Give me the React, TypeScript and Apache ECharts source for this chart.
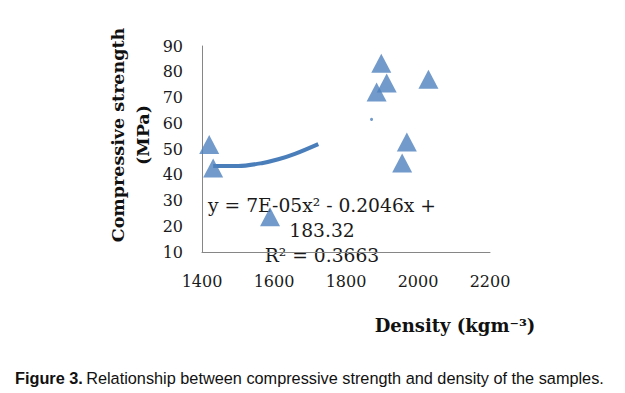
import React, { useEffect, useRef } from "react";
import * as echarts from "echarts";

// Axis ranges / ticks
const densityMin = 1400;
const densityMax = 2200;
const densityStep = 200;
const strengthMin = 10;
const strengthMax = 90;
const strengthStep = 10;

// Measured samples (density kg/m3, compressive strength MPa)
const densities = [1420, 1431, 1589, 1885, 1898, 1913, 1956, 1969, 2029];
const strengths = [51.7, 42.6, 23.7, 72.1, 83.3, 75.6, 44.6, 52.7, 77.1];

// Small stray point visible in the figure
const strayDensity = [1871];
const strayStrength = [61.5];

// Polynomial trendline as drawn in the figure
const trendDensity = [1431, 1445, 1501, 1566, 1612, 1658, 1723];
const trendStrength = [43.4, 43.4, 43.4, 44.5, 46.0, 48.1, 51.9];

const equationLines = ["y = 7E-05x² - 0.2046x +", "183.32", "R² = 0.3663"];
const yTitleLines = ["Compressive strength", "(MPa)"];
const xTitle = "Density (kgm⁻³)";
const captionBold = "Figure 3.";
const captionText = "Relationship between compressive strength and density of the samples.";

const SERIF = "'DejaVu Serif', 'Liberation Serif', serif";
const SANS = "'Liberation Sans', Arial, sans-serif";
const BLUE = "#4f81bd";

export default function App() {
  const ref = useRef<HTMLDivElement>(null);

  useEffect(() => {
    if (!ref.current) return;
    const chart = echarts.init(ref.current, undefined, { renderer: "svg" });
    const points = densities.map((d, i) => [d, strengths[i]]);
    const stray = strayDensity.map((d, i) => [d, strayStrength[i]]);
    const trend = trendDensity.map((d, i) => [d, trendStrength[i]]);

    chart.setOption({
      animation: false,
      backgroundColor: "#ffffff",
      grid: { left: 202, right: 135, top: 46, bottom: 141, containLabel: false },
      xAxis: {
        type: "value",
        min: densityMin,
        max: densityMax,
        interval: densityStep,
        axisLine: { show: true, lineStyle: { color: "#868686", width: 1 } },
        axisTick: { show: false },
        splitLine: { show: false },
        axisLabel: {
          color: "#1a1a1a",
          fontFamily: SERIF,
          fontSize: 16,
          margin: 21,
          formatter: (v: number) => String(v),
        },
      },
      yAxis: {
        type: "value",
        min: strengthMin,
        max: strengthMax,
        interval: strengthStep,
        axisLine: { show: true, lineStyle: { color: "#868686", width: 1 } },
        axisTick: { show: false },
        splitLine: { show: false },
        axisLabel: { color: "#1a1a1a", fontFamily: SERIF, fontSize: 16, margin: 19 },
      },
      series: [
        {
          type: "line",
          data: trend,
          smooth: 0.3,
          showSymbol: false,
          symbol: "none",
          lineStyle: { color: "#4a7ebb", width: 4 },
          z: 3,
        },
        {
          type: "scatter",
          data: stray,
          symbol: "circle",
          symbolSize: 3,
          itemStyle: { color: BLUE },
          z: 4,
        },
        {
          type: "scatter",
          data: points,
          symbol: "triangle",
          symbolSize: [20, 19],
          itemStyle: { color: BLUE },
          z: 5,
        },
      ],
      graphic: [
        {
          type: "text",
          x: 322,
          y: 230,
          z: -1,
          style: {
            text: equationLines.join("\n"),
            fontFamily: SERIF,
            fontSize: 18.7,
            lineHeight: 25,
            fill: "#1a1a1a",
            textAlign: "center",
            textVerticalAlign: "middle",
          },
        },
        {
          type: "text",
          x: 130.5,
          y: 135,
          rotation: Math.PI / 2,
          style: {
            text: yTitleLines.join("\n"),
            fontFamily: SERIF,
            fontWeight: "bold",
            fontSize: 17.5,
            lineHeight: 25,
            fill: "#111",
            textAlign: "center",
            textVerticalAlign: "middle",
          },
        },
        {
          type: "text",
          x: 455,
          y: 325,
          style: {
            text: xTitle,
            fontFamily: SERIF,
            fontWeight: "bold",
            fontSize: 18,
            fill: "#111",
            textAlign: "center",
            textVerticalAlign: "middle",
          },
        },
        {
          type: "text",
          x: 15,
          y: 378,
          style: {
            text: `{b|${captionBold}} {n|${captionText}}`,
            textAlign: "left",
            textVerticalAlign: "middle",
            rich: {
              b: { fontFamily: SANS, fontWeight: "bold", fontSize: 16.3, fill: "#111" },
              n: { fontFamily: SANS, fontSize: 16.3, fill: "#111" },
            },
          },
        },
      ],
    });
    return () => chart.dispose();
  }, []);

  return (
    <div
      ref={ref}
      style={{ position: "fixed", left: 0, top: 0, width: 625, height: 393, background: "#fff" }}
    />
  );
}
